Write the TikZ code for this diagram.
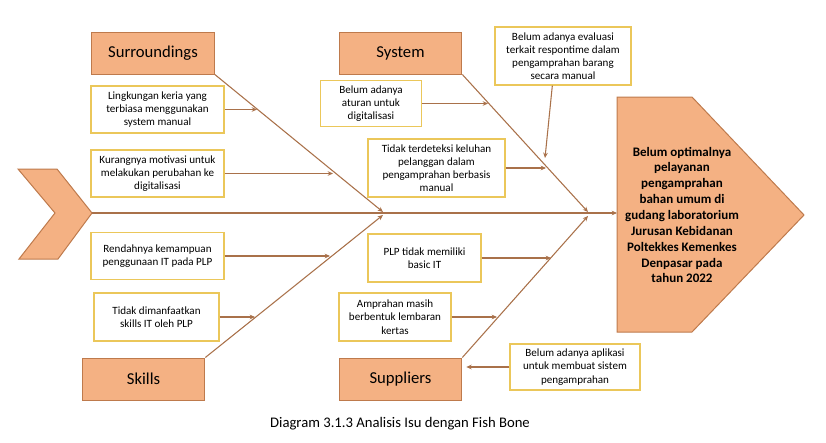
\documentclass[tikz,border=0pt]{standalone}
\usepackage{fontspec}
\setmainfont{Carlito}
\usepackage{tikz}
\usetikzlibrary{arrows.meta}
\definecolor{catfill}{HTML}{F4B183}
\definecolor{catline}{HTML}{BE7A4C}
\definecolor{boneline}{HTML}{A9714A}
\definecolor{causeline}{HTML}{EBC75A}

\begin{document}
\begin{tikzpicture}[x=0.75pt,y=-0.75pt]
  \tikzstyle{category}=[draw=catline,fill=catfill,line width=0.75pt,inner sep=0pt,
    minimum width=92pt,minimum height=31.5pt,font=\fontsize{12.5}{15}\selectfont]
  \tikzstyle{cause}=[draw=causeline,fill=white,line width=0.9pt,inner sep=0pt,align=center,
    font=\fontsize{8.3}{9.9}\selectfont]
  \tikzstyle{bone}=[boneline,line width=0.8pt,-{Stealth[length=4pt,width=3.5pt]}]
  \useasboundingbox (0,0) rectangle (826,443);

  % tail and head of the fish
  \draw[catline,fill=catfill,line width=0.75pt] (18,169) -- (57,169) -- (92,213)
    -- (58,259) -- (19,259) -- (55,213) -- cycle;
  \draw[catline,fill=catfill,line width=0.75pt] (617,97) -- (692,97) -- (804,215)
    -- (692,332) -- (617,332) -- cycle;
  \node[align=center,font=\fontsize{9.75}{11.9}\selectfont\bfseries] (effect) at (682,215)
    {Belum optimalnya\\pelayanan\\pengamprahan\\bahan umum di\\gudang laboratorium\\Jurusan Kebidanan\\Poltekkes Kemenkes\\Denpasar pada\\tahun 2022};
  \coordinate (tail) at (92,213);
  \coordinate (head) at (617,213);
  \coordinate (j1) at (383,212);
  \coordinate (j1b) at (383,215);
  \coordinate (j2) at (588,212);
  \coordinate (j2b) at (588,216);

  % categories
  \node[category] (surr) at (153,53) {Surroundings};
  \node[category] (sys) at (400.5,53) {System};
  \node[category] (skills) at (143.5,379) {Skills};
  \node[category] (supp) at (400.5,379) {Suppliers};

  % causes
  \node[cause,minimum width=99.75pt,minimum height=35.25pt] (c1) at (157.5,109.5)
    {Lingkungan keria yang\\terbiasa menggunakan\\system manual};
  \node[cause,minimum width=99.75pt,minimum height=35.25pt] (c2) at (157.5,173.5)
    {Kurangnya motivasi untuk\\melakukan perubahan ke\\digitalisasi};
  \node[cause,minimum width=99.75pt,minimum height=35.25pt] (c3) at (157.5,256)
    {Rendahnya kemampuan\\penggunaan IT pada PLP};
  \node[cause,minimum width=93.75pt,minimum height=36pt] (c4) at (156.5,317)
    {Tidak dimanfaatkan\\skills IT oleh PLP};
  \node[cause,minimum width=75.75pt,minimum height=34.5pt] (c5) at (371,103.5)
    {Belum adanya\\aturan untuk\\digitalisasi};
  \node[cause,minimum width=102.75pt,minimum height=43.5pt] (c6) at (436.5,168)
    {Tidak terdeteksi keluhan\\pelanggan dalam\\pengamprahan berbasis\\manual};
  \node[cause,minimum width=102pt,minimum height=43.5pt] (c7) at (563,56)
    {Belum adanya evaluasi\\terkait respontime dalam\\pengamprahan barang\\secara manual};
  \node[cause,minimum width=84.75pt,minimum height=36pt] (c8) at (424.5,258)
    {PLP tidak memiliki\\basic IT};
  \node[cause,minimum width=84pt,minimum height=36pt] (c9) at (395,317)
    {Amprahan masih\\berbentuk lembaran\\kertas};
  \node[cause,minimum width=97.5pt,minimum height=34.5pt] (c10) at (575,367)
    {Belum adanya aplikasi\\untuk membuat sistem\\pengamprahan};

  % spine and bones
  \draw[bone] (tail) -- (head);
  \draw[bone] (surr.south east) -- (j1);
  \draw[bone] (skills.north east) -- (j1b);
  \draw[bone] (sys.south east) -- (j2);
  \draw[bone] (supp.north east) -- (j2b);

  % cause arrows
  \coordinate (b1) at (257,109);
  \coordinate (b2) at (333,173);
  \coordinate (b3) at (330,256);
  \coordinate (b4) at (255,317);
  \coordinate (b5) at (488,103);
  \coordinate (b6) at (546,168);
  \coordinate (b7) at (545,158);
  \coordinate (b8) at (551,258);
  \coordinate (b9) at (497,317);
  \draw[bone] (c1.east) -- (c1.east -| b1);
  \draw[bone] (c2.east) -- (c2.east -| b2);
  \draw[bone] (c3.east) -- (c3.east -| b3);
  \draw[bone] (c4.east) -- (c4.east -| b4);
  \draw[bone] (c5.east) -- (c5.east -| b5);
  \draw[bone] (c6.east) -- (c6.east -| b6);
  \draw[bone] ([xshift=-8pt]c7.south) -- (b7);
  \draw[bone] (c8.east) -- (c8.east -| b8);
  \draw[bone] (c9.east) -- (c9.east -| b9);
  \draw[bone,shorten >=3pt] (c10.west) -- (c10.west -| supp.east);

  \node[font=\fontsize{11}{13}\selectfont] (caption) at (400,424)
    {Diagram 3.1.3 Analisis Isu dengan Fish Bone};
\end{tikzpicture}
\end{document}
